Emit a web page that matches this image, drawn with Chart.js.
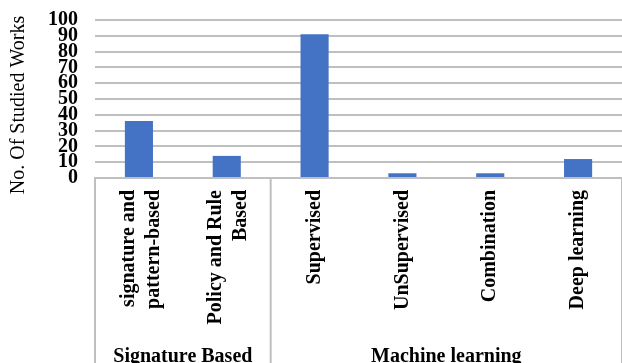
<!DOCTYPE html>
<html>
<head>
<meta charset="utf-8">
<script src="https://cdn.jsdelivr.net/npm/chart.js@4/dist/chart.umd.min.js"></script>
<style>
  html, body { margin: 0; padding: 0; background: #fff; }
  #wrap { width: 622px; height: 363px; position: relative; }
</style>
</head>
<body>
<div id="wrap"><canvas id="c"></canvas></div>
<script>
// Detection approaches and number of studied works per approach
const categories = [
  ['signature and', 'pattern-based'],
  ['Policy and Rule', 'Based'],
  'Supervised',
  'UnSupervised',
  'Combination',
  'Deep learning'
];
const studiedWorks = [36, 14, 91, 3, 3, 12];

// Upper-level grouping of the categories above
const groupNames = ['Signature Based', 'Machine learning'];
const groupSizes = [2, 4];

const yTicks = [0, 10, 20, 30, 40, 50, 60, 70, 80, 90, 100];
const yTitle = 'No. Of Studied Works';

const SERIF = '"Liberation Serif", "Times New Roman", serif';
const GRID = '#bfbfbf';

// Draws the axis title, the vertical category labels (multi-line ones
// centred on the tick), the group separators and the group names
const groupAxis = {
  id: 'groupAxis',
  afterDraw(chart) {
    const x = chart.scales.x;
    const ctx = chart.ctx;
    const half = (x.getPixelForValue(1) - x.getPixelForValue(0)) / 2;
    const top = chart.chartArea.bottom;
    const bottom = chart.height;
    ctx.save();

    // y axis title
    ctx.fillStyle = '#000';
    ctx.font = '20px ' + SERIF;
    ctx.textAlign = 'center';
    ctx.textBaseline = 'middle';
    ctx.save();
    ctx.translate(19, (chart.chartArea.top + top) / 2 + 6);
    ctx.rotate(-Math.PI / 2);
    ctx.fillText(yTitle, 0, 0);
    ctx.restore();

    // category labels, rotated to read bottom-to-top
    ctx.font = 'bold 20px ' + SERIF;
    ctx.textAlign = 'right';
    ctx.textBaseline = 'middle';
    const lineGap = 25;
    categories.forEach((label, i) => {
      const lines = Array.isArray(label) ? label : [label];
      const px = x.getPixelForValue(i);
      lines.forEach((line, j) => {
        const off = (j - (lines.length - 1) / 2) * lineGap + (lines.length > 1 ? 2 : 0);
        ctx.save();
        ctx.translate(px + off, top + 12);
        ctx.rotate(-Math.PI / 2);
        ctx.fillText(line, 0, 0);
        ctx.restore();
      });
    });

    // group boxes and names
    ctx.strokeStyle = GRID;
    ctx.lineWidth = 2;
    let start = 0;
    groupSizes.forEach((size, g) => {
      const left = x.getPixelForValue(start) - half;
      const right = x.getPixelForValue(start + size - 1) + half;
      ctx.beginPath();
      ctx.moveTo(left, top);
      ctx.lineTo(left, bottom);
      ctx.stroke();
      if (g === groupSizes.length - 1) {
        ctx.beginPath();
        ctx.moveTo(right, top);
        ctx.lineTo(right, bottom);
        ctx.stroke();
      }
      ctx.fillStyle = '#000';
      ctx.font = 'bold 20px ' + SERIF;
      ctx.textAlign = 'center';
      ctx.textBaseline = 'alphabetic';
      ctx.fillText(groupNames[g], (left + right) / 2, 362);
      start += size;
    });
    ctx.restore();
  }
};

new Chart(document.getElementById('c'), {
  type: 'bar',
  data: {
    labels: categories,
    datasets: [{
      data: studiedWorks,
      backgroundColor: '#4472C4',
      borderWidth: 0,
      categoryPercentage: 1,
      barPercentage: 0.32
    }]
  },
  options: {
    responsive: true,
    maintainAspectRatio: false,
    animation: false,
    layout: { padding: { top: 20, right: 0, left: 0, bottom: 0 } },
    plugins: {
      legend: { display: false },
      tooltip: { enabled: false }
    },
    scales: {
      x: {
        grid: { display: false, drawTicks: false },
        border: { display: true, color: GRID, width: 2 },
        ticks: { display: false },
        afterFit(scale) { scale.height = 185; }
      },
      y: {
        min: 0,
        max: 100,
        afterBuildTicks(scale) { scale.ticks = yTicks.map(v => ({ value: v })); },
        grid: { color: GRID, lineWidth: 2, drawTicks: false },
        border: { display: false },
        ticks: {
          autoSkip: false,
          padding: 17,
          color: '#000',
          font: { family: SERIF, size: 20, weight: 'bold' }
        },
        title: { display: false },
        afterFit(scale) {
          scale.width = 95;
          scale.paddingTop = 0;
          scale.paddingBottom = 0;
        }
      }
    }
  },
  plugins: [groupAxis]
});
</script>
</body>
</html>
